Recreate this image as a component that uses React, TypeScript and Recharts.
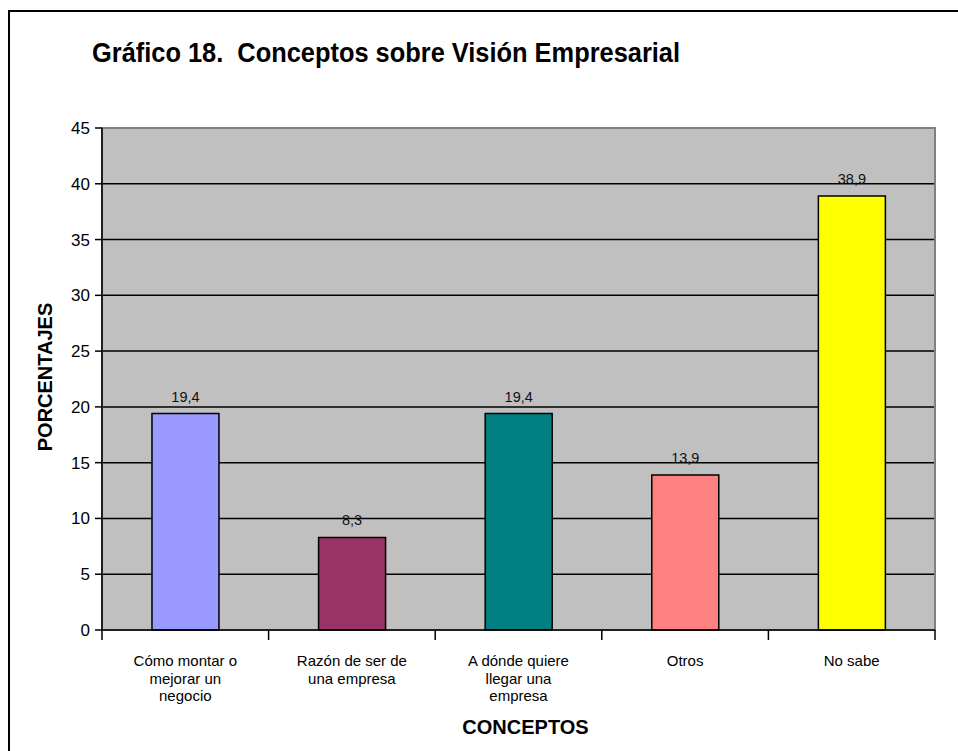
import React from 'react';
import { BarChart, Bar, XAxis, YAxis, CartesianGrid, LabelList, Cell, ReferenceArea } from 'recharts';

const chartTitle = 'Gráfico 18.  Conceptos sobre Visión Empresarial';
const xTitle = 'CONCEPTOS';
const yTitle = 'PORCENTAJES';

const categories = [
  'Cómo montar o\nmejorar un\nnegocio',
  'Razón de ser de\nuna empresa',
  'A dónde quiere\nllegar una\nempresa',
  'Otros',
  'No sabe',
];
const values = [19.4, 8.3, 19.4, 13.9, 38.9];
const barColors = ['#9999FF', '#993366', '#008080', '#FF8080', '#FFFF00'];
const yTicks = [0, 5, 10, 15, 20, 25, 30, 35, 40, 45];

const data = categories.map((name, i) => ({ name, value: values[i] }));

const FONT = "'Liberation Sans', Arial, sans-serif";

const CategoryTick = (props: any) => {
  const { x, y, payload, index, visibleTicksCount } = props;
  const half = payload && typeof payload.offset === 'number' ? payload.offset : 0;
  const lines = String(payload.value).split('\n');
  return (
    <g>
      <line x1={x - half} x2={x - half} y1={y} y2={y + 10} stroke="#000" strokeWidth={1.5} />
      {index === visibleTicksCount - 1 && (
        <line x1={x + half} x2={x + half} y1={y} y2={y + 10} stroke="#000" strokeWidth={1.5} />
      )}
      <text x={x} y={y + 36} textAnchor="middle" fontSize={15} fontFamily={FONT} fill="#000">
        {lines.map((l, i) => (
          <tspan key={i} x={x} dy={i === 0 ? 0 : 17.5}>
            {l}
          </tspan>
        ))}
      </text>
    </g>
  );
};

const XTitle = (p: any) => {
  const vb = p.viewBox;
  return (
    <text x={vb.x + vb.width / 2 + 7} y={vb.y + 104} textAnchor="middle" fontSize={20} fontWeight="bold" fontFamily={FONT} fill="#000">
      {xTitle}
    </text>
  );
};

const YTitle = (p: any) => {
  const vb = p.viewBox;
  const cx = vb.x + 3;
  const cy = vb.y + vb.height / 2 - 2;
  return (
    <text x={cx} y={cy} transform={`rotate(-90, ${cx}, ${cy})`} textAnchor="middle" dominantBaseline="central" fontSize={20} fontWeight="bold" fontFamily={FONT} fill="#000">
      {yTitle}
    </text>
  );
};

const fmt = (v: any) => Number(v).toFixed(1).replace('.', ',');

export default function App() {
  return (
    <div style={{ position: 'absolute', left: 0, top: 0, width: 958, height: 751, background: '#fff', overflow: 'hidden' }}>
      <div style={{ position: 'absolute', left: 8, top: 10, width: 1000, height: 800, borderLeft: '2px solid #000', borderTop: '2px solid #000' }} />
      <div style={{ position: 'absolute', left: 0, top: 0 }}>
        <BarChart
          width={958}
          height={751}
          data={data}
          margin={{ top: 128, right: 23, bottom: 41, left: 42 }}
          barCategoryGap="30%"
        >
          <text
            x={92}
            y={62}
            fontSize={28}
            fontWeight="bold"
            fontFamily={FONT}
            fill="#000"
            textLength={588}
            lengthAdjust="spacingAndGlyphs"
            style={{ whiteSpace: 'pre' }}
          >
            {chartTitle}
          </text>
          <CartesianGrid vertical={false} stroke="#000" strokeWidth={1.5} fill="#C0C0C0" fillOpacity={1} />
          <ReferenceArea x1={categories[0]} x2={categories[categories.length - 1]} y1={0} y2={45} fill="none" stroke="#808080" strokeWidth={2} />
          <XAxis
            dataKey="name"
            type="category"
            height={80}
            interval={0}
            tickSize={0}
            tickMargin={0}
            tickLine={false}
            axisLine={{ stroke: '#000', strokeWidth: 1.5 }}
            tick={<CategoryTick />}
            label={<XTitle />}
          />
          <YAxis
            type="number"
            domain={[0, 45]}
            ticks={yTicks}
            interval={0}
            width={60}
            tickSize={7}
            tickMargin={5}
            axisLine={{ stroke: '#000', strokeWidth: 1.5 }}
            tickLine={{ stroke: '#000', strokeWidth: 1.5 }}
            tick={{ fontSize: 17, fill: '#000', fontFamily: FONT }}
            label={<YTitle />}
          />
          <Bar dataKey="value" stroke="#000" strokeWidth={1.5} isAnimationActive={false}>
            {data.map((d, i) => (
              <Cell key={i} fill={barColors[i]} />
            ))}
            <LabelList dataKey="value" position="top" offset={12} formatter={fmt} fontSize={14.5} fill="#111" fontFamily={FONT} />
          </Bar>
        </BarChart>
      </div>
    </div>
  );
}
